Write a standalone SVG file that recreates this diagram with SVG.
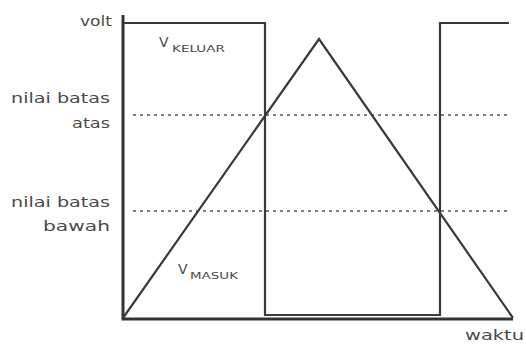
<svg xmlns="http://www.w3.org/2000/svg" width="526" height="345" viewBox="0 0 526 345">
<style>
.t{font-family:"DejaVu Sans","Liberation Sans",sans-serif;font-size:14px;fill:#4a4a4a}
.r{text-anchor:end}
.sub{font-size:8.5px}
.ax{stroke:#333;stroke-width:3;fill:none}
.w{stroke:#3a3a3a;stroke-width:2.2;fill:none}
.d{stroke:#555;stroke-width:1.6;stroke-dasharray:3 4;fill:none}
</style>
<rect width="526" height="345" fill="#fff"/>
<g id="axes">
<path class="ax" d="M123 15 V319 H513"/>
</g>
<g id="thresholds">
<path class="d" d="M133 115 H510"/>
<path class="d" d="M133 211 H510"/>
</g>
<g id="output">
<path class="w" d="M123 23 H265 V315 H440 V23 H509"/>
</g>
<g id="input">
<path class="w" d="M123 318 L319 39 L513 318"/>
</g>
<g id="labels">
<text class="t" x="80" y="26" textLength="32" lengthAdjust="spacingAndGlyphs">volt</text>
<text class="t" x="11" y="103" textLength="99" lengthAdjust="spacingAndGlyphs">nilai batas</text>
<text class="t" x="72" y="128" textLength="38" lengthAdjust="spacingAndGlyphs">atas</text>
<text class="t" x="11" y="207" textLength="99" lengthAdjust="spacingAndGlyphs">nilai batas</text>
<text class="t" x="43" y="231" textLength="67" lengthAdjust="spacingAndGlyphs">bawah</text>
<text class="t" x="159" y="47">V</text>
<text class="t sub" x="172" y="52" textLength="53" lengthAdjust="spacingAndGlyphs">KELUAR</text>
<text class="t" x="178" y="274">V</text>
<text class="t sub" x="190" y="279" textLength="48" lengthAdjust="spacingAndGlyphs">MASUK</text>
<text class="t" x="465" y="340" textLength="59" lengthAdjust="spacingAndGlyphs">waktu</text>
</g>
</svg>
